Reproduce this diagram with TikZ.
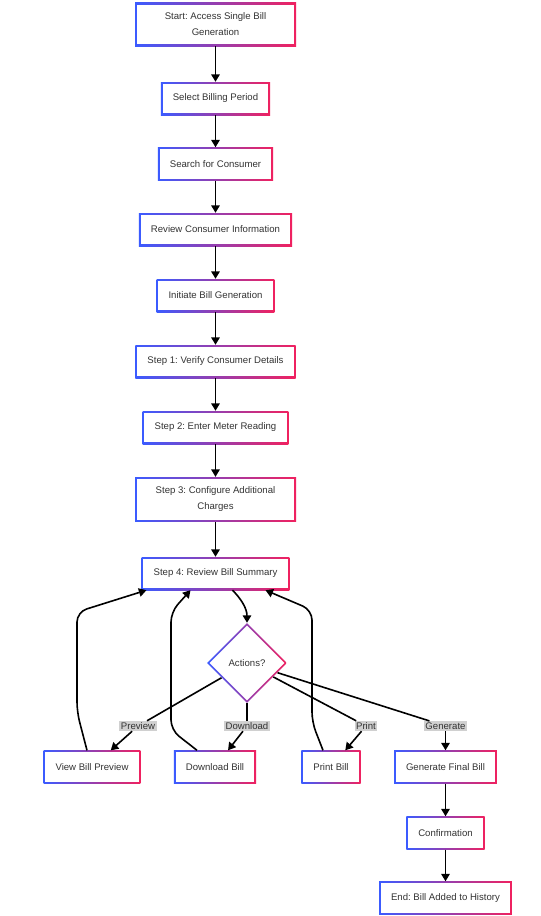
\documentclass[tikz,border=0pt]{standalone}
\usepackage{fontspec}
\setmainfont{Liberation Sans}
\usepackage{xcolor}
\usetikzlibrary{shapes.geometric,arrows.meta,positioning,calc}
\frenchspacing

\definecolor{bordblue}{HTML}{3B5BFF}
\definecolor{bordpink}{HTML}{F0215F}
\definecolor{txtgray}{HTML}{333333}
\definecolor{lblgray}{HTML}{D0D0D0}

\tikzset{
  box/.style={rectangle, minimum height=33pt, inner xsep=12pt, inner ysep=10pt, align=center,
    left color=bordblue, right color=bordpink, text=txtgray,
    font=\fontsize{9.6}{16}\selectfont,
    path picture={\fill[white] ([shift={(1.8pt,1.8pt)}]path picture bounding box.south west)
      rectangle ([shift={(-1.8pt,-1.8pt)}]path picture bounding box.north east);}},
  widebox/.style={box, minimum width=161pt},
  choice/.style={diamond, aspect=1, minimum width=80pt, minimum height=80pt, inner sep=0pt,
    left color=bordblue, right color=bordpink, text=txtgray,
    font=\fontsize{9.6}{16}\selectfont,
    path picture={\fill[white] ([yshift=-2.5pt]path picture bounding box.north)
      -- ([xshift=-2.5pt]path picture bounding box.east)
      -- ([yshift=2.5pt]path picture bounding box.south)
      -- ([xshift=2.5pt]path picture bounding box.west) -- cycle;}},
  lbl/.style={fill=lblgray, inner sep=1.5pt, text=txtgray, font=\fontsize{9.6}{12}\selectfont},
  lin/.style={line width=1.6pt, black},
  arr/.style={lin, -{Triangle[length=7.5pt,width=8.5pt]}},
}

\begin{document}
\begin{tikzpicture}[x=1pt,y=-1pt]
\useasboundingbox (0,0) rectangle (541,916);

% main column
\node[widebox] (start) at (215.5,24.5) {Start: Access Single Bill\\Generation};
\node[box] (period) at (215.5,98.5) {Select Billing Period};
\node[box] (search) at (215.5,164) {Search for Consumer};
\node[box] (review) at (215.5,229.5) {Review Consumer Information};
\node[box] (initiate) at (215.5,295.5) {Initiate Bill Generation};
\node[box] (verify) at (215.5,361.5) {Step 1: Verify Consumer Details};
\node[box] (meter) at (215.5,427.5) {Step 2: Enter Meter Reading};
\node[widebox] (charges) at (215.5,499.5) {Step 3: Configure Additional\\Charges};
\node[box] (summary) at (215.5,573.5) {Step 4: Review Bill Summary};
\node[choice] (actions) at (247,663) {Actions?};

% actions
\node[box] (preview) at (92,767) {View Bill Preview};
\node[box] (download) at (215,767) {Download Bill};
\node[box] (print) at (331,767) {Print Bill};
\node[box] (final) at (445.5,767) {Generate Final Bill};
\node[box] (confirm) at (445.5,833) {Confirmation};
\node[box] (finish) at (445.5,898) {End: Bill Added to History};

\node[lbl] (lprev) at (138,726) {Preview};
\node[lbl] (ldown) at (247,726) {Download};
\node[lbl] (lprint) at (366,726) {Print};
\node[lbl] (lgen) at (445.5,726) {Generate};

\draw[arr] (start) -- (period);
\draw[arr] (period) -- (search);
\draw[arr] (search) -- (review);
\draw[arr] (review) -- (initiate);
\draw[arr] (initiate) -- (verify);
\draw[arr] (verify) -- (meter);
\draw[arr] (meter) -- (charges);
\draw[arr] (charges) -- (summary);
\draw[arr] ([xshift=17pt]summary.south) .. controls +(9,9) and +(0,-14) .. (actions.north);

\draw[lin] (actions) -- (lprev);
\draw[arr] (lprev) -- (preview);
\draw[lin] (actions) -- (ldown);
\draw[arr] (ldown) -- (download);
\draw[lin] (actions) -- (lprint);
\draw[arr] (lprint) -- (print);
\draw[lin] (actions) -- (lgen);
\draw[arr] (lgen) -- (final);

% back to summary
\draw[arr, rounded corners=10pt] ([xshift=-5pt]preview.north) -- (77,712) -- (77,612) -- ([xshift=5pt]summary.south west);
\draw[arr, rounded corners=10pt] ([xshift=-18pt]download.north) -- (171,730) -- (171,612) -- ([xshift=-25pt]summary.south);
\draw[arr, rounded corners=10pt] ([xshift=-8pt]print.north) -- (312,722) -- (312,610) -- ([xshift=50pt]summary.south);

\draw[arr] (final) -- (confirm);
\draw[arr] (confirm) -- (finish);
\end{tikzpicture}
\end{document}
